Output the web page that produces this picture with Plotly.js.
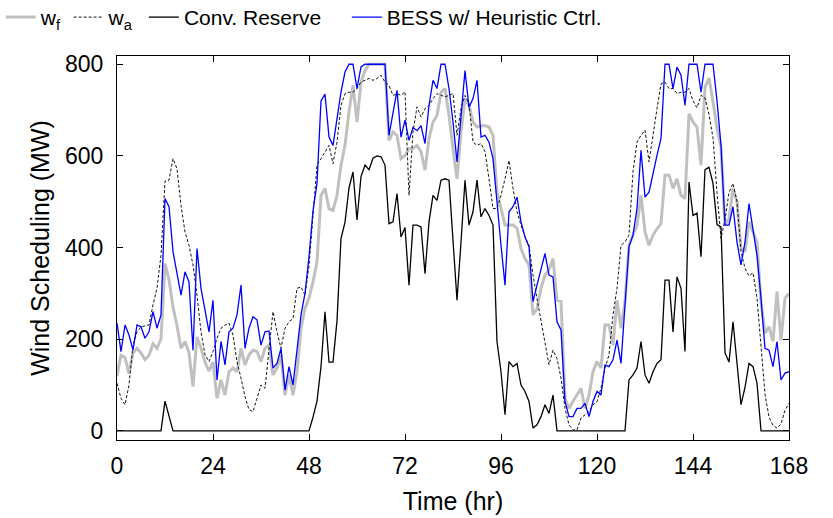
<!DOCTYPE html>
<html>
<head>
<meta charset="utf-8">
<script src="https://cdn.plot.ly/plotly-3.0.1.min.js"></script>
<style>html,body{margin:0;padding:0;background:#fff;}#chart{width:833px;height:518px;}</style>
</head>
<body>
<div id="chart"></div>
<script>
// hourly time axis (hr)
const hours = [];
for (let i = 0; i <= 168; i++) hours.push(i);

// w_f : forecast wind (MW)
const windForecast = [
  120,165,160,125,170,180,170,155,165,190,180,200,
  365,330,270,230,180,195,170,97,205,180,150,130,
  150,71,111,78,129,137,129,180,144,166,176,173,
  151,180,187,122,137,166,78,122,78,129,224,267,
  290,325,369,514,529,485,481,514,580,623,696,754,
  674,761,786,800,800,800,800,800,634,652,645,594,
  601,616,616,623,609,569,638,674,688,739,747,688,
  616,550,652,725,710,674,663,666,666,663,645,520,
  485,449,449,449,442,398,376,362,253,267,311,340,
  351,376,285,282,71,49,64,78,93,49,78,129,
  151,137,231,231,187,285,224,282,405,427,449,514,
  434,405,427,441,452,558,558,529,550,514,507,692,
  674,663,580,750,770,718,660,620,449,463,529,500,
  398,391,456,434,412,282,213,227,195,304,198,289,
  300
];

// w_a : actual wind (MW)
const windActual = [
  104,71,57,100,187,216,227,229,231,275,311,383,
  545,547,594,572,492,434,405,362,296,216,166,151,
  173,202,224,231,235,209,151,115,75,46,42,71,
  100,93,180,260,216,180,224,238,245,311,314,296,
  360,478,580,594,609,623,583,630,710,736,739,739,
  747,761,765,769,765,769,776,761,754,732,736,732,
  740,514,652,707,685,703,710,725,736,732,729,732,
  736,645,703,732,714,630,623,627,609,550,485,485,
  514,550,590,529,478,449,423,405,340,289,238,195,
  144,176,158,115,49,13,2,2,28,35,42,57,
  64,93,137,166,253,311,405,412,427,565,630,645,
  656,587,649,703,757,761,747,747,736,739,739,747,
  720,705,732,727,690,640,520,420,460,520,540,500,
  391,355,338,345,290,180,80,30,12,6,15,45,
  60
];

// Conv. Reserve scheduling (MW)
const convReserve = [
  0,0,0,0,0,0,0,0,0,0,0,0,
  65,30,0,0,0,0,0,0,0,0,0,0,
  0,0,0,0,0,0,0,0,0,0,0,0,
  0,0,0,0,0,0,0,0,0,0,0,0,
  0,30,65,140,260,150,150,240,420,455,530,565,
  460,555,580,570,595,600,598,580,452,456,518,423,
  444,318,449,449,445,343,456,514,503,547,550,547,
  427,285,412,547,449,478,547,467,485,470,449,195,
  129,35,151,140,147,100,86,64,6,13,31,57,
  38,78,0,0,0,0,0,0,0,0,0,0,
  0,0,0,0,0,0,0,0,111,122,137,195,
  122,104,129,147,155,329,329,216,336,311,173,543,
  470,475,380,570,575,540,450,445,170,150,238,140,
  57,95,147,140,104,0,0,0,0,0,0,0,
  0
];

// BESS w/ Heuristic Ctrl. scheduling (MW)
const bessHeuristic = [
  235,173,231,209,176,231,227,202,216,260,224,253,
  507,489,391,347,296,347,325,176,398,311,267,216,
  285,111,195,144,216,224,253,318,180,224,249,242,
  187,216,218,137,147,180,89,140,100,180,253,300,
  380,480,540,720,735,641,623,681,739,783,800,800,
  747,794,800,800,800,800,800,800,645,696,743,641,
  678,634,662,655,666,627,710,765,747,800,800,747,
  674,587,681,786,706,725,765,641,645,630,594,492,
  405,318,478,489,510,456,423,402,282,318,354,387,
  340,336,238,220,64,31,31,49,49,60,31,64,
  86,78,144,140,155,198,147,275,402,427,485,612,
  510,521,565,601,638,800,800,747,794,776,710,800,
  800,800,739,800,800,800,720,623,449,449,489,412,
  362,412,496,441,383,289,180,176,140,195,111,126,
  129
];

const seriesNames = ['w<sub>f</sub>', 'w<sub>a</sub>', 'Conv. Reserve', 'BESS w/ Heuristic Ctrl.'];
const xTicks = [0, 24, 48, 72, 96, 120, 144, 168];
const yTicks = [0, 200, 400, 600, 800];

const FONT = 'Liberation Sans, Arial, Helvetica, sans-serif';

const traces = [
  {x: hours, y: windForecast, name: seriesNames[0], mode: 'lines', legend: 'legend',
   line: {color: 'rgb(192,192,192)', width: 3}},
  {x: hours, y: windActual, name: seriesNames[1], mode: 'lines', legend: 'legend2',
   line: {color: 'rgb(20,20,20)', width: 1, dash: '3px,2px'}},
  {x: hours, y: convReserve, name: seriesNames[2], mode: 'lines', legend: 'legend3',
   line: {color: 'rgb(0,0,0)', width: 1.3}},
  {x: hours, y: bessHeuristic, name: seriesNames[3], mode: 'lines', legend: 'legend4',
   line: {color: 'rgb(0,0,255)', width: 1.3}}
];

function legendAt(xp) {
  return {orientation: 'h', x: xp, xanchor: 'left', y: 1.047, yanchor: 'bottom',
          font: {family: FONT, size: 21, color: '#000'}, bgcolor: 'rgba(0,0,0,0)',
          itemwidth: 30, borderwidth: 0};
}

const layout = {
  width: 833, height: 518,
  margin: {l: 117, r: 44, t: 56, b: 78, autoexpand: false},
  paper_bgcolor: '#fff', plot_bgcolor: '#fff',
  font: {family: FONT, color: '#000', size: 22},
  showlegend: true,
  legend: legendAt(-0.173),
  legend2: legendAt(-0.072),
  legend3: legendAt(0.040),
  legend4: legendAt(0.342),
  xaxis: {
    range: [0, 168], tickvals: xTicks, ticktext: xTicks.map(String),
    ticks: 'inside', ticklen: 6, tickwidth: 1, tickcolor: '#000',
    showline: true, linecolor: '#000', linewidth: 1, mirror: 'ticks',
    showgrid: false, zeroline: false, ticklabelstandoff: 5,
    tickfont: {family: FONT, size: 23, color: '#000'},
    title: {text: 'Time (hr)', font: {family: FONT, size: 25, color: '#000'}, standoff: 14}
  },
  yaxis: {
    range: [-20, 818], tickvals: yTicks, ticktext: yTicks.map(String),
    ticks: 'inside', ticklen: 6, tickwidth: 1, tickcolor: '#000',
    showline: true, linecolor: '#000', linewidth: 1, mirror: 'ticks',
    showgrid: false, zeroline: false, ticklabelstandoff: 8,
    tickfont: {family: FONT, size: 23, color: '#000'},
    title: {text: 'Wind Scheduling (MW)', font: {family: FONT, size: 25, color: '#000'}, standoff: 8}
  }
};

Plotly.newPlot('chart', traces, layout, {displayModeBar: false, staticPlot: true});
</script>
</body>
</html>
